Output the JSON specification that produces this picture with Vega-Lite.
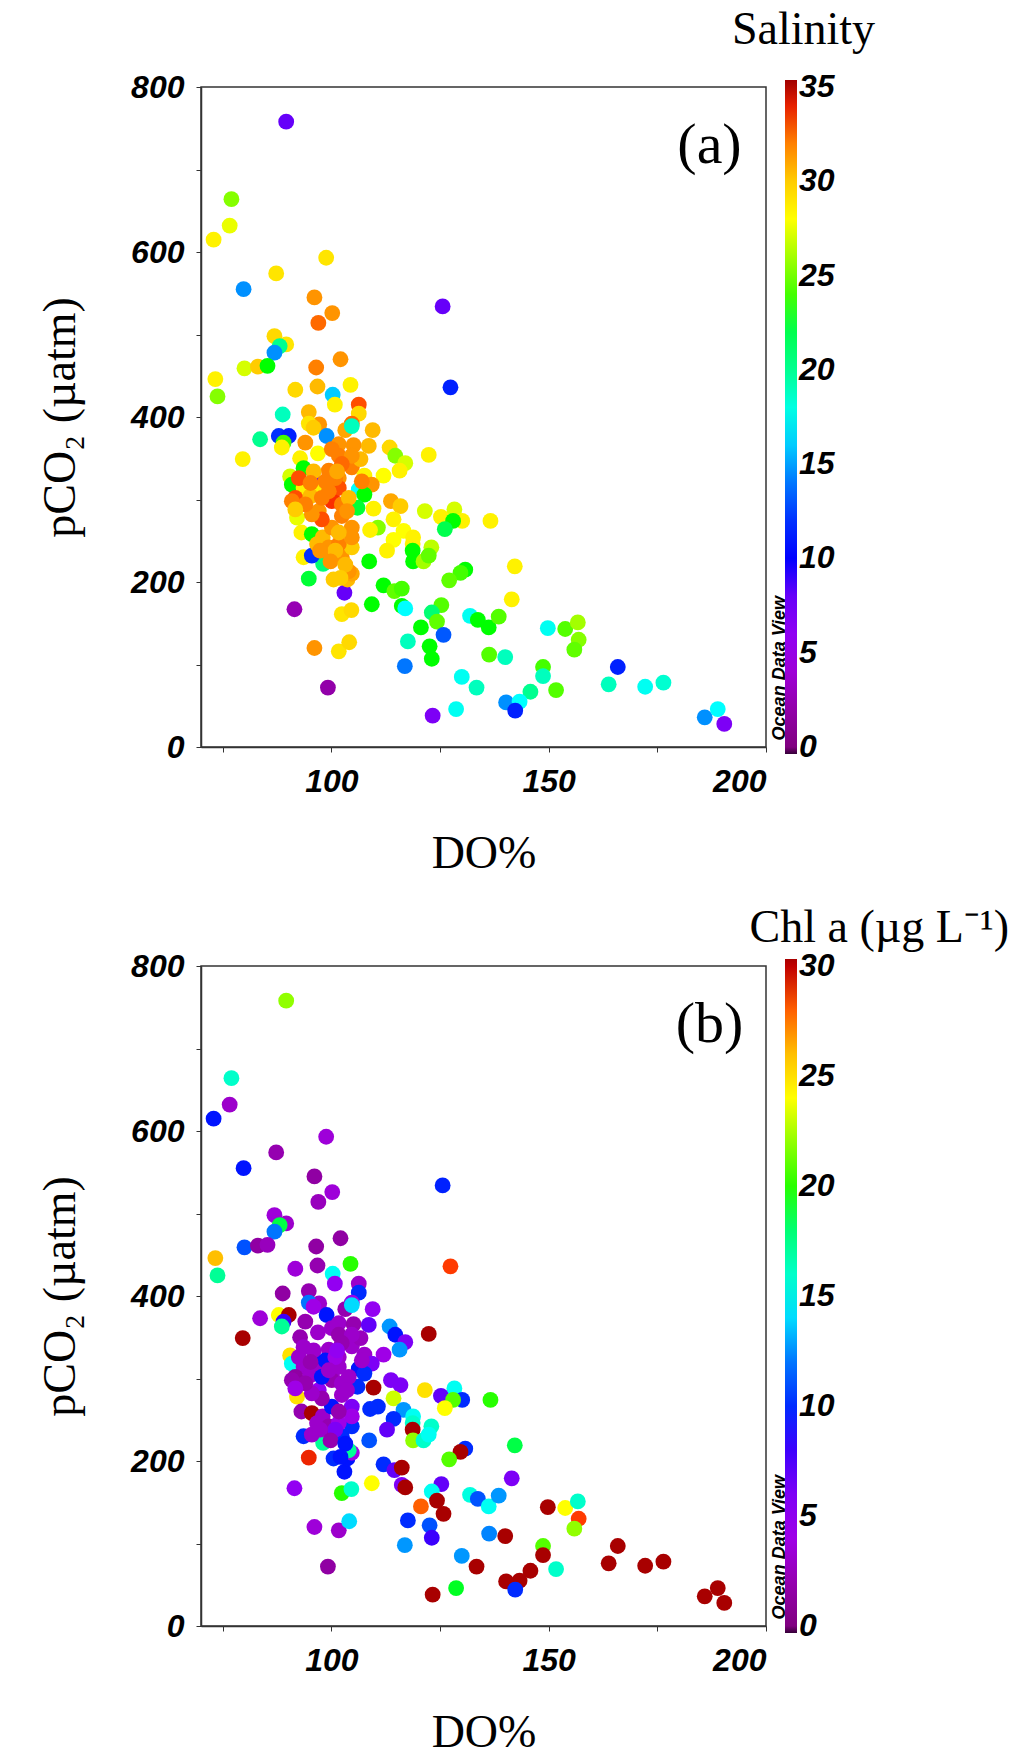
{
"$schema": "https://vega.github.io/schema/vega-lite/v6.json",
"background": "white",
"padding": {"left": 36, "top": 6, "right": 5, "bottom": 0},
"spacing": 27,
"data": {"values": [
{"DO":89.6,"pCO2":758,"Sal":8,"Chl":22},{"DO":77.0,"pCO2":664,"Sal":25.5,"Chl":16},{"DO":76.6,"pCO2":632,"Sal":27.5,"Chl":3},{"DO":72.9,"pCO2":615,"Sal":28.5,"Chl":9},{"DO":98.8,"pCO2":593,"Sal":29,"Chl":3.5},{"DO":87.3,"pCO2":574,"Sal":29,"Chl":2},{"DO":79.8,"pCO2":555,"Sal":15,"Chl":9},{"DO":96.1,"pCO2":545,"Sal":31.5,"Chl":1.5},{"DO":125.6,"pCO2":534,"Sal":8,"Chl":9.5},{"DO":100.2,"pCO2":526,"Sal":31.5,"Chl":3.5},{"DO":97.0,"pCO2":514,"Sal":32.5,"Chl":2.5},{"DO":86.9,"pCO2":498,"Sal":29.5,"Chl":3.5},{"DO":89.6,"pCO2":488,"Sal":29,"Chl":3},{"DO":88.1,"pCO2":486,"Sal":20,"Chl":19},{"DO":86.9,"pCO2":478,"Sal":15,"Chl":12},{"DO":102.1,"pCO2":470,"Sal":31.5,"Chl":1.5},{"DO":80.0,"pCO2":459,"Sal":27,"Chl":11},{"DO":83.1,"pCO2":461,"Sal":30,"Chl":1.5},{"DO":85.3,"pCO2":462,"Sal":23,"Chl":2.5},{"DO":96.5,"pCO2":460,"Sal":32,"Chl":1.5},{"DO":73.3,"pCO2":446,"Sal":28.5,"Chl":26},{"DO":91.7,"pCO2":433,"Sal":29.5,"Chl":3.5},{"DO":96.8,"pCO2":437,"Sal":30.5,"Chl":2},{"DO":104.4,"pCO2":439,"Sal":28.5,"Chl":20},{"DO":127.4,"pCO2":436,"Sal":11,"Chl":28.5},{"DO":73.8,"pCO2":425,"Sal":25.5,"Chl":17},
{"DO":100.3,"pCO2":427,"Sal":16,"Chl":15},{"DO":100.8,"pCO2":415,"Sal":28.5,"Chl":5},{"DO":106.3,"pCO2":415,"Sal":33,"Chl":3},{"DO":106.3,"pCO2":404,"Sal":29.5,"Chl":10},{"DO":88.8,"pCO2":403,"Sal":19,"Chl":1.5},{"DO":94.8,"pCO2":406,"Sal":30.5,"Chl":2},{"DO":97.2,"pCO2":391,"Sal":31.5,"Chl":3},{"DO":94.8,"pCO2":392,"Sal":29,"Chl":12},{"DO":95.9,"pCO2":387,"Sal":30,"Chl":4},{"DO":104.7,"pCO2":392,"Sal":32.5,"Chl":4},{"DO":103.2,"pCO2":384,"Sal":31,"Chl":2},{"DO":104.7,"pCO2":389,"Sal":19,"Chl":14},{"DO":109.5,"pCO2":384,"Sal":30.5,"Chl":5},{"DO":98.9,"pCO2":377,"Sal":15,"Chl":9},{"DO":83.6,"pCO2":373,"Sal":20,"Chl":3.5},{"DO":87.9,"pCO2":377,"Sal":12,"Chl":24},{"DO":90.2,"pCO2":377,"Sal":11,"Chl":31},{"DO":89.0,"pCO2":369,"Sal":24,"Chl":8},{"DO":88.6,"pCO2":363,"Sal":28.5,"Chl":17},{"DO":94.0,"pCO2":369,"Sal":31.5,"Chl":2},{"DO":101.7,"pCO2":367,"Sal":31.5,"Chl":3},{"DO":105.1,"pCO2":366,"Sal":31.5,"Chl":2},{"DO":108.6,"pCO2":365,"Sal":30.5,"Chl":7},{"DO":79.6,"pCO2":349,"Sal":28.5,"Chl":31},{"DO":113.4,"pCO2":363,"Sal":29.5,"Chl":13},{"DO":114.7,"pCO2":353,"Sal":25.5,"Chl":9},{"DO":117.0,"pCO2":344,"Sal":27,"Chl":6},{"DO":115.7,"pCO2":335,"Sal":28.5,"Chl":13},{"DO":122.4,"pCO2":354,"Sal":28.5,"Chl":31},{"DO":112.0,"pCO2":329,"Sal":28,"Chl":4},{"DO":92.8,"pCO2":350,"Sal":28.5,"Chl":2},{"DO":96.9,"pCO2":356,"Sal":28,"Chl":3},{"DO":90.5,"pCO2":328,"Sal":27,"Chl":25},{"DO":93.6,"pCO2":338,"Sal":23,"Chl":3},{"DO":95.9,"pCO2":323,"Sal":8,"Chl":9},{"DO":90.9,"pCO2":318,"Sal":23,"Chl":15},{"DO":93.6,"pCO2":314,"Sal":28.5,"Chl":3},{"DO":97.4,"pCO2":312,"Sal":28.5,"Chl":3},{"DO":91.7,"pCO2":302,"Sal":33,"Chl":1.5},{"DO":95.2,"pCO2":304,"Sal":30.5,"Chl":3},{"DO":100.1,"pCO2":304,"Sal":33.5,"Chl":3},{"DO":101.7,"pCO2":326,"Sal":31.5,"Chl":3},{"DO":104.7,"pCO2":339,"Sal":32,"Chl":3},{"DO":106.7,"pCO2":349,"Sal":30.5,"Chl":2.5},{"DO":107.6,"pCO2":329,"Sal":28.5,"Chl":3},{"DO":109.3,"pCO2":318,"Sal":31.5,"Chl":6},{"DO":106.3,"pCO2":312,"Sal":17,"Chl":9},{"DO":107.6,"pCO2":306,"Sal":23,"Chl":10},{"DO":106.0,"pCO2":290,"Sal":22.5,"Chl":10},{"DO":109.7,"pCO2":289,"Sal":28.5,"Chl":31},{"DO":113.7,"pCO2":298,"Sal":31,"Chl":6},{"DO":115.9,"pCO2":292,"Sal":30,"Chl":6},{"DO":121.5,"pCO2":286,"Sal":27,"Chl":25},{"DO":128.3,"pCO2":288,"Sal":27,"Chl":15},{"DO":125.2,"pCO2":279,"Sal":28.5,"Chl":7},{"DO":130.1,"pCO2":274,"Sal":28.5,"Chl":10},{"DO":128.0,"pCO2":274,"Sal":23,"Chl":21},{"DO":126.1,"pCO2":264,"Sal":22,"Chl":24},{"DO":136.6,"pCO2":274,"Sal":28.5,"Chl":20},{"DO":114.3,"pCO2":276,"Sal":28.5,"Chl":23},{"DO":110.7,"pCO2":266,"Sal":25.5,"Chl":10},{"DO":108.9,"pCO2":263,"Sal":28.5,"Chl":10},{"DO":116.6,"pCO2":262,"Sal":28,"Chl":13},{"DO":114.3,"pCO2":251,"Sal":28,"Chl":10},{"DO":118.8,"pCO2":254,"Sal":28.5,"Chl":15},{"DO":118.7,"pCO2":246,"Sal":28.5,"Chl":16},{"DO":112.8,"pCO2":238,"Sal":28.5,"Chl":7},{"DO":118.7,"pCO2":238,"Sal":23,"Chl":31},{"DO":118.8,"pCO2":225,"Sal":23,"Chl":22},{"DO":121.2,"pCO2":225,"Sal":26,"Chl":16},{"DO":123.0,"pCO2":242,"Sal":26.5,"Chl":16},{"DO":122.4,"pCO2":232,"Sal":25,"Chl":15},{"DO":108.7,"pCO2":225,"Sal":23,"Chl":11},{"DO":94.8,"pCO2":204,"Sal":22.5,"Chl":29},{"DO":98.1,"pCO2":222,"Sal":21,"Chl":17},{"DO":103.0,"pCO2":187,"Sal":8,"Chl":9},{"DO":103.7,"pCO2":203,"Sal":30.5,"Chl":9},{"DO":104.7,"pCO2":210,"Sal":31,"Chl":4},{"DO":112.0,"pCO2":196,"Sal":23,"Chl":10},{"DO":114.5,"pCO2":189,"Sal":25,"Chl":7},{"DO":116.2,"pCO2":192,"Sal":24,"Chl":31},{"DO":130.8,"pCO2":215,"Sal":23,"Chl":10},{"DO":129.7,"pCO2":211,"Sal":24,"Chl":31},{"DO":127.1,"pCO2":202,"Sal":25,"Chl":21},{"DO":142.2,"pCO2":219,"Sal":28.5,"Chl":19},{"DO":141.5,"pCO2":179,"Sal":28.5,"Chl":6},{"DO":91.5,"pCO2":167,"Sal":2.5,"Chl":5},{"DO":102.4,"pCO2":161,"Sal":29,"Chl":20},{"DO":104.6,"pCO2":166,"Sal":29.5,"Chl":16},{"DO":109.3,"pCO2":173,"Sal":23,"Chl":24},{"DO":116.2,"pCO2":171,"Sal":23,"Chl":6},{"DO":117.0,"pCO2":168,"Sal":17,"Chl":31},{"DO":125.3,"pCO2":172,"Sal":24.5,"Chl":7},{"DO":123.1,"pCO2":163,"Sal":21,"Chl":15},{"DO":124.3,"pCO2":152,"Sal":25,"Chl":31},{"DO":120.6,"pCO2":145,"Sal":23,"Chl":28},{"DO":125.8,"pCO2":136,"Sal":13,"Chl":31},{"DO":131.9,"pCO2":159,"Sal":17.5,"Chl":15.5},{"DO":133.7,"pCO2":154,"Sal":23,"Chl":11},{"DO":136.2,"pCO2":145,"Sal":23,"Chl":15},{"DO":138.5,"pCO2":158,"Sal":24.5,"Chl":13},{"DO":117.6,"pCO2":128,"Sal":19,"Chl":10},{"DO":122.6,"pCO2":122,"Sal":23,"Chl":11},{"DO":123.1,"pCO2":107,"Sal":23,"Chl":8},{"DO":116.9,"pCO2":98,"Sal":14,"Chl":13},{"DO":96.1,"pCO2":120,"Sal":31.5,"Chl":3.5},{"DO":101.7,"pCO2":116,"Sal":29,"Chl":3},{"DO":104.1,"pCO2":127,"Sal":29.5,"Chl":14},{"DO":99.2,"pCO2":72,"Sal":2,"Chl":1.5},{"DO":123.3,"pCO2":38,"Sal":7,"Chl":31},{"DO":128.7,"pCO2":46,"Sal":17.5,"Chl":19.5},{"DO":130.0,"pCO2":85,"Sal":17.5,"Chl":13},{"DO":133.4,"pCO2":72,"Sal":19,"Chl":31},{"DO":136.3,"pCO2":112,"Sal":24.5,"Chl":12.5},{"DO":140.0,"pCO2":109,"Sal":19,"Chl":31},{"DO":149.8,"pCO2":144,"Sal":17.5,"Chl":31},{"DO":153.8,"pCO2":143,"Sal":24.5,"Chl":24},{"DO":156.7,"pCO2":151,"Sal":26,"Chl":16},{"DO":156.9,"pCO2":130,"Sal":25.5,"Chl":28.5},{"DO":155.9,"pCO2":118,"Sal":25,"Chl":22},{"DO":148.7,"pCO2":97,"Sal":24,"Chl":21},{"DO":148.7,"pCO2":86,"Sal":19,"Chl":31},{"DO":145.8,"pCO2":67,"Sal":20,"Chl":31},{"DO":151.7,"pCO2":69,"Sal":24.5,"Chl":16},{"DO":140.2,"pCO2":54,"Sal":15,"Chl":31},{"DO":143.3,"pCO2":55,"Sal":17,"Chl":31},{"DO":142.3,"pCO2":44,"Sal":11,"Chl":10},{"DO":165.9,"pCO2":97,"Sal":11,"Chl":31},{"DO":163.8,"pCO2":76,"Sal":19,"Chl":31},{"DO":172.2,"pCO2":73,"Sal":17.5,"Chl":31},{"DO":176.4,"pCO2":78,"Sal":18.5,"Chl":31},{"DO":185.9,"pCO2":36,"Sal":15,"Chl":31},{"DO":188.9,"pCO2":46,"Sal":17,"Chl":31},{"DO":190.4,"pCO2":28,"Sal":7,"Chl":31},
{"DO":92.1,"pCO2":278,"Sal":27.5,"Chl":25},{"DO":93.1,"pCO2":260,"Sal":28.5,"Chl":2},{"DO":95.5,"pCO2":258,"Sal":23,"Chl":31},{"DO":98.0,"pCO2":254,"Sal":30.5,"Chl":3},{"DO":100.1,"pCO2":266,"Sal":31.5,"Chl":9},{"DO":102.4,"pCO2":280,"Sal":32,"Chl":3},{"DO":104.7,"pCO2":266,"Sal":31.5,"Chl":6},{"DO":93.6,"pCO2":230,"Sal":28.5,"Chl":10},{"DO":95.5,"pCO2":232,"Sal":12,"Chl":3},{"DO":102.4,"pCO2":230,"Sal":31.5,"Chl":10},{"DO":104.7,"pCO2":242,"Sal":30,"Chl":10},{"DO":104.0,"pCO2":213,"Sal":31.5,"Chl":17},{"DO":100.1,"pCO2":361,"Sal":32,"Chl":3},{"DO":101.7,"pCO2":353,"Sal":32,"Chl":2},{"DO":104.7,"pCO2":353,"Sal":31.5,"Chl":3},{"DO":99.4,"pCO2":335,"Sal":32,"Chl":3},{"DO":102.4,"pCO2":343,"Sal":32.5,"Chl":2},{"DO":98.6,"pCO2":322,"Sal":32,"Chl":9},{"DO":101.7,"pCO2":314,"Sal":33,"Chl":3},{"DO":100.1,"pCO2":298,"Sal":33.5,"Chl":2},{"DO":102.4,"pCO2":294,"Sal":32,"Chl":3},{"DO":97.1,"pCO2":286,"Sal":31.5,"Chl":5},{"DO":97.8,"pCO2":276,"Sal":33,"Chl":2},{"DO":95.5,"pCO2":282,"Sal":31.5,"Chl":3},{"DO":100.9,"pCO2":326,"Sal":32,"Chl":4},{"DO":97.8,"pCO2":302,"Sal":32,"Chl":9},{"DO":104.0,"pCO2":302,"Sal":30.5,"Chl":3},{"DO":96.7,"pCO2":246,"Sal":30.5,"Chl":3},{"DO":99.4,"pCO2":242,"Sal":31.5,"Chl":2},{"DO":101.7,"pCO2":246,"Sal":32,"Chl":4},{"DO":100.9,"pCO2":238,"Sal":30.5,"Chl":6},{"DO":97.4,"pCO2":238,"Sal":31.5,"Chl":3},{"DO":99.8,"pCO2":225,"Sal":31.5,"Chl":2},{"DO":103.2,"pCO2":221,"Sal":30.5,"Chl":9},{"DO":104.7,"pCO2":254,"Sal":31.5,"Chl":4},{"DO":103.6,"pCO2":286,"Sal":31.5,"Chl":3},{"DO":94.0,"pCO2":294,"Sal":32,"Chl":2},{"DO":92.5,"pCO2":326,"Sal":33,"Chl":3},{"DO":90.9,"pCO2":298,"Sal":32,"Chl":2},{"DO":91.7,"pCO2":288,"Sal":30,"Chl":4},{"DO":99.4,"pCO2":310,"Sal":32,"Chl":3},{"DO":101.3,"pCO2":334,"Sal":31,"Chl":5},{"DO":95.9,"pCO2":334,"Sal":30.5,"Chl":3},{"DO":95.2,"pCO2":320,"Sal":32,"Chl":2},{"DO":101.7,"pCO2":260,"Sal":30.5,"Chl":2},{"DO":107.0,"pCO2":322,"Sal":32,"Chl":3},{"DO":100.5,"pCO2":203,"Sal":30,"Chl":10},{"DO":102.1,"pCO2":205,"Sal":30,"Chl":9}
]},
"config": {
  "view": {"stroke": "#333333", "strokeWidth": 1.5},
  "axis": {"grid": false, "labelFont": "Liberation Sans", "labelFontWeight": "bold", "labelFontStyle": "italic", "labelFontSize": 32, "labelColor": "black", "titleFont": "Liberation Serif", "titleFontWeight": "normal", "titleFontSize": 46, "titleColor": "black", "domainColor": "#333333", "domainWidth": 1.5, "tickColor": "#333333", "tickSize": 5},
  "legend": {"gradientLength": 674, "gradientThickness": 12, "gradientStrokeWidth": 0, "labelFont": "Liberation Sans", "labelFontWeight": "bold", "labelFontStyle": "italic", "labelFontSize": 32, "labelColor": "black", "labelOffset": 10, "offset": 26, "padding": -7},
  "title": {"font": "Liberation Serif", "fontWeight": "normal", "fontSize": 46, "color": "black", "anchor": "end", "frame": "group"}
},
"resolve": {"scale": {"color": "independent"}},
"vconcat": [
  {
    "width": 565, "height": 660,
    "title": {"text": "Salinity", "dx": 109, "offset": 17},
    "layer": [
      {"mark": {"type": "circle", "size": 250, "opacity": 1},
       "encoding": {
         "x": {"field": "DO", "type": "quantitative", "scale": {"domain": [70, 200], "nice": false}, "axis": {"title": "DO%", "values": [75, 100, 125, 150, 175, 200], "labelExpr": "datum.value % 50 == 0 ? datum.label : ''", "labelPadding": 14, "titlePadding": 34}},
         "y": {"field": "pCO2", "type": "quantitative", "scale": {"domain": [0, 800], "nice": false}, "axis": {"title": "pCO₂ (µatm)", "values": [0, 100, 200, 300, 400, 500, 600, 700, 800], "labelExpr": "datum.value % 200 == 0 ? datum.label : ''", "labelPadding": 12, "titlePadding": 46}},
         "color": {"field": "Sal", "type": "quantitative",
           "scale": {"domain": [-0.37, 0, 5, 10, 12, 15, 17, 20, 23, 25, 28, 30, 32, 33.4, 35, 35.37], "range": ["#000000", "#800080", "#a000f0", "#0000ff", "#0030ff", "#0090ff", "#00ffff", "#00ff90", "#00ff00", "#60ff00", "#ffff00", "#ffcc00", "#ff8000", "#ff3000", "#c00000", "#a00000"], "clamp": true},
           "legend": {"title": null, "values": [0, 5, 10, 15, 20, 25, 30, 35]}}
       }},
      {"data": {"values": [{}]},
       "mark": {"type": "text", "text": "(a)", "font": "Liberation Serif", "fontSize": 58, "align": "center", "baseline": "middle", "color": "black"},
       "encoding": {"x": {"datum": 187}, "y": {"datum": 728}}},
      {"data": {"values": [{}]},
       "mark": {"type": "text", "text": "Ocean Data View", "font": "Liberation Sans", "fontStyle": "italic", "fontWeight": "bold", "fontSize": 18, "angle": 270, "align": "left", "baseline": "middle", "color": "black"},
       "encoding": {"x": {"datum": 203.3}, "y": {"datum": 8}}}
    ]
  },
  {
    "width": 565, "height": 660,
    "title": {"text": "Chl a (µg L⁻¹)", "dx": 243, "offset": -2},
    "layer": [
      {"mark": {"type": "circle", "size": 250, "opacity": 1},
       "encoding": {
         "x": {"field": "DO", "type": "quantitative", "scale": {"domain": [70, 200], "nice": false}, "axis": {"title": "DO%", "values": [75, 100, 125, 150, 175, 200], "labelExpr": "datum.value % 50 == 0 ? datum.label : ''", "labelPadding": 14, "titlePadding": 34}},
         "y": {"field": "pCO2", "type": "quantitative", "scale": {"domain": [0, 800], "nice": false}, "axis": {"title": "pCO₂ (µatm)", "values": [0, 100, 200, 300, 400, 500, 600, 700, 800], "labelExpr": "datum.value % 200 == 0 ? datum.label : ''", "labelPadding": 12, "titlePadding": 46}},
         "color": {"field": "Chl", "type": "quantitative",
           "scale": {"domain": [-0.32, 0, 4.3, 8.6, 10.3, 12.9, 14.6, 17.1, 19.7, 21.4, 24, 25.7, 27.4, 28.6, 30, 30.32], "range": ["#000000", "#800080", "#a000f0", "#0000ff", "#0030ff", "#0090ff", "#00ffff", "#00ff90", "#00ff00", "#60ff00", "#ffff00", "#ffcc00", "#ff8000", "#ff3000", "#c00000", "#a80000"], "clamp": true},
           "legend": {"title": null, "values": [0, 5, 10, 15, 20, 25, 30]}}
       }},
      {"data": {"values": [{}]},
       "mark": {"type": "text", "text": "(b)", "font": "Liberation Serif", "fontSize": 58, "align": "center", "baseline": "middle", "color": "black"},
       "encoding": {"x": {"datum": 187}, "y": {"datum": 728}}},
      {"data": {"values": [{}]},
       "mark": {"type": "text", "text": "Ocean Data View", "font": "Liberation Sans", "fontStyle": "italic", "fontWeight": "bold", "fontSize": 18, "angle": 270, "align": "left", "baseline": "middle", "color": "black"},
       "encoding": {"x": {"datum": 203.3}, "y": {"datum": 8}}}
    ]
  }
]
}
